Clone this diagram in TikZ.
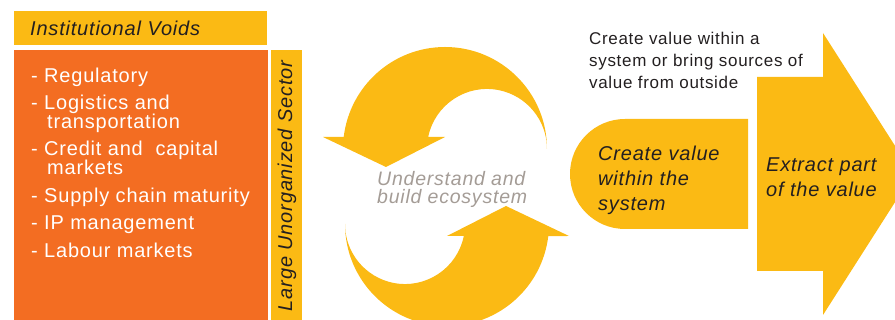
\documentclass[tikz,border=0pt]{standalone}
\usepackage{fontspec}
\setmainfont{Liberation Sans}[LetterSpace=4]
\usetikzlibrary{positioning}

\definecolor{voidorange}{HTML}{F36D22}
\definecolor{ecoyellow}{HTML}{FBBA14}
\definecolor{ecogrey}{HTML}{A49C96}
\definecolor{inkdark}{HTML}{231F20}

\tikzset{
	voidbar/.style={fill=ecoyellow, anchor=north west, minimum width=253pt, minimum height=34pt,
		inner xsep=16pt, inner ysep=0pt, text width=221pt, align=left,
		text=inkdark, font=\fontsize{20pt}{24pt}\selectfont\itshape},
	listtext/.style={anchor=north west, inner sep=0pt, align=left, text=white,
		font=\fontsize{20pt}{19pt}\selectfont},
	sidetext/.style={rotate=90, inner sep=0pt, text=inkdark,
		font=\fontsize{20pt}{24pt}\selectfont\itshape},
	ecotext/.style={anchor=north west, inner sep=0pt, align=left, text=ecogrey,
		font=\fontsize{19.5pt}{18pt}\selectfont\itshape},
	valuetext/.style={anchor=north west, inner sep=0pt, align=left, text=inkdark,
		font=\fontsize{20pt}{25pt}\selectfont\itshape},
	notetext/.style={anchor=north west, inner sep=0pt, align=left, text=inkdark,
		font=\fontsize{17pt}{22pt}\selectfont}
}

\begin{document}
\begin{tikzpicture}[x=1pt, y=1pt]
		\useasboundingbox (0,0) rectangle (895,320);
		\clip (0,0) rectangle (895,320);

		% left panel
		\node [voidbar] (voids) at (14,309) {Institutional Voids};
		\fill [voidorange] (14,-10) rectangle (268,270);
		\fill [ecoyellow] (271,-10) rectangle (302,270);
		\node [listtext] (voidlist) at (31,252) {- Regulatory\\[8pt]
			- Logistics and\\ \hspace*{16pt}transportation\\[8pt]
			- Credit and\ \ capital\\ \hspace*{16pt}markets\\[8.5pt]
			- Supply chain maturity\\[8.5pt]
			- IP management\\[8.5pt]
			- Labour markets};
		\node [sidetext] (sector) at (287,134) {Large Unorganized Sector};

		% cycle arrows
		\fill [ecoyellow] (547,171) arc [start angle=0, end angle=173.2, radius=102]
			-- (323,183) -- (386,153) -- (445,183) -- (428.2,183)
			arc [start angle=168.5, end angle=0, radius=60] -- cycle;
		\begin{scope}[rotate around={180:(446,133.5)}]
			\fill [ecoyellow] (547,171) arc [start angle=0, end angle=173.2, radius=102]
				-- (323,183) -- (386,153) -- (445,183) -- (428.2,183)
				arc [start angle=168.5, end angle=0, radius=60] -- cycle;
		\end{scope}
		\node [ecotext] (eco) at (377,148.5) {Understand and\\build ecosystem};

		% right part
		\node [notetext] (note) at (589,288) {Create value within a\\system or bring sources of\\value from outside};
		\fill [ecoyellow] (748,201) -- (625,201) arc [start angle=90, end angle=270, radius=55]
			-- (748,91) -- cycle;
		\node [valuetext] (within) at (598,174.5) {Create value\\within the\\system};
		\fill [ecoyellow] (757,49) -- (757,243) -- (823,243) -- (823,287)
			-- (913,146) -- (823,5) -- (823,49) -- cycle;
		\node [valuetext] (extract) at (766,162.5) {Extract part\\of the value};
	\end{tikzpicture}
\end{document}
